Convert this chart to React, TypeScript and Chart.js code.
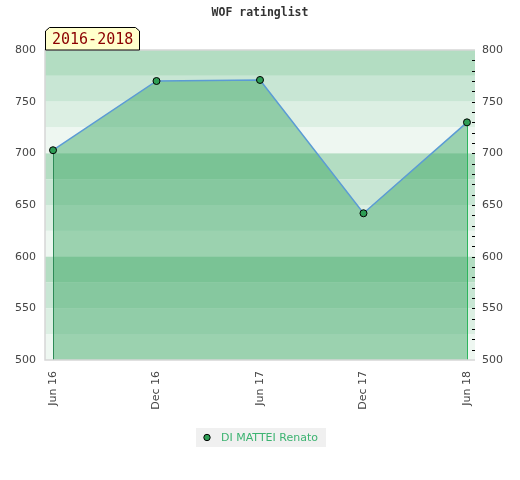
import React, { useEffect, useRef } from "react";
import { Chart, registerables } from "chart.js";

Chart.register(...registerables);

const titleText = "WOF ratinglist";
const periodLabel = "2016-2018";
const playerName = "DI MATTEI Renato";
const dateLabels = ["Jun 16", "Dec 16", "Jun 17", "Dec 17", "Jun 18"];
const ratings = [703, 770, 771, 642, 730];
const yMin = 500;
const yMax = 800;
const yStep = 50;
const bandStep = 25;
const minorStep = 10;
const bandColors = ["#b3ddc2", "#c8e6d4", "#dcefe3", "#eef7f1"];

const SANS = "'DejaVu Sans', sans-serif";
const MONO = "'DejaVu Sans Mono', monospace";

const decorPlugin = {
  id: "decor",
  beforeDraw(chart: any) {
    const { ctx, chartArea: a, scales } = chart;
    const y = scales.y;
    ctx.save();
    let i = 0;
    for (let v = yMax; v > yMin; v -= bandStep) {
      const top = y.getPixelForValue(v);
      const bot = y.getPixelForValue(v - bandStep);
      ctx.fillStyle = bandColors[i % bandColors.length];
      ctx.fillRect(a.left, top, a.right - a.left, bot - top);
      i++;
    }
    ctx.restore();
  },
  beforeDatasetDraw(chart: any) {
    const { ctx, chartArea: a, scales } = chart;
    const x = scales.x;
    const y = scales.y;
    const n = ratings.length;
    ctx.save();
    ctx.lineWidth = 1;
    ctx.strokeStyle = "#2e8b57";
    const x0 = Math.round(x.getPixelForValue(0)) + 0.5;
    ctx.beginPath();
    ctx.moveTo(x0, y.getPixelForValue(ratings[0]));
    ctx.lineTo(x0, a.bottom);
    ctx.stroke();
    ctx.strokeStyle = "#2db55d";
    const x1 = Math.round(x.getPixelForValue(n - 1)) + 0.5;
    ctx.beginPath();
    ctx.moveTo(x1, y.getPixelForValue(ratings[n - 1]));
    ctx.lineTo(x1, a.bottom);
    ctx.stroke();
    ctx.restore();
  },
  afterDraw(chart: any) {
    const { ctx, chartArea: a, scales, width } = chart;
    const y = scales.y;
    ctx.save();
    // plot borders
    ctx.strokeStyle = "#d6d6d6";
    ctx.lineWidth = 1.5;
    ctx.beginPath();
    ctx.moveTo(a.right, a.top);
    ctx.lineTo(a.left, a.top);
    ctx.lineTo(a.left, a.bottom);
    ctx.lineTo(a.right, a.bottom);
    ctx.stroke();

    // minor ticks on right
    ctx.strokeStyle = "#000";
    ctx.lineWidth = 1;
    for (let v = yMin + minorStep; v < yMax; v += minorStep) {
      const py = Math.round(y.getPixelForValue(v)) + 0.5;
      ctx.beginPath();
      ctx.moveTo(a.right - 3, py);
      ctx.lineTo(a.right, py);
      ctx.stroke();
    }

    // title
    ctx.fillStyle = "#333";
    ctx.font = "bold 11.5px " + MONO;
    ctx.textAlign = "center";
    ctx.textBaseline = "middle";
    ctx.fillText(titleText, width / 2, 13);

    // period box
    const bl = a.left, br = a.left + 95, bt = a.top - 23, bb = a.top;
    ctx.beginPath();
    ctx.moveTo(bl + 0.5, bb);
    ctx.lineTo(bl + 0.5, bt + 4);
    ctx.lineTo(bl + 4.5, bt + 0.5);
    ctx.lineTo(br - 4.5, bt + 0.5);
    ctx.lineTo(br - 0.5, bt + 4);
    ctx.lineTo(br - 0.5, bb);
    ctx.closePath();
    ctx.fillStyle = "#ffffcc";
    ctx.fill();
    ctx.strokeStyle = "#000";
    ctx.stroke();
    ctx.fillStyle = "#8b0000";
    ctx.font = "15px " + MONO;
    ctx.textAlign = "left";
    ctx.fillText(periodLabel, bl + 7, bt + 13);

    // legend
    const ds = chart.data.datasets[0];
    ctx.font = "11px " + SANS;
    const tw = ctx.measureText(ds.label).width;
    const lw = tw + 33;
    const lx = Math.round(width / 2 + 1 - lw / 2);
    const ly = 428;
    ctx.fillStyle = "#f0f0f0";
    ctx.fillRect(lx, ly, lw, 19);
    ctx.beginPath();
    ctx.arc(lx + 11, ly + 9.5, 3.2, 0, Math.PI * 2);
    ctx.fillStyle = ds.pointBackgroundColor;
    ctx.fill();
    ctx.strokeStyle = "#000";
    ctx.lineWidth = 1;
    ctx.stroke();
    ctx.fillStyle = "#3cb371";
    ctx.textAlign = "left";
    ctx.textBaseline = "middle";
    ctx.fillText(ds.label, lx + 25, ly + 10);
    ctx.restore();
  },
};

export default function App() {
  const ref = useRef<HTMLCanvasElement | null>(null);
  useEffect(() => {
    if (!ref.current) return;
    const yTickOpts = {
      stepSize: yStep,
      color: "#444",
      font: { family: SANS, size: 11 },
    };
    const chart = new Chart(ref.current, {
      type: "line",
      data: {
        datasets: [
          {
            label: playerName,
            data: ratings.map((r, i) => ({ x: i, y: r })),
            borderColor: "#5b9bd5",
            borderWidth: 1.5,
            backgroundColor: "rgba(54,163,96,0.45)",
            fill: "start",
            tension: 0,
            pointRadius: 3.5,
            pointBackgroundColor: "#2e9e55",
            pointBorderColor: "#000",
            pointBorderWidth: 1,
          },
        ],
      },
      options: {
        responsive: false,
        animation: false,
        devicePixelRatio: 1,
        layout: { padding: { top: 50, bottom: 60, left: 0, right: 0 } },
        plugins: {
          legend: { display: false },
          title: { display: false },
          tooltip: { enabled: false },
        },
        scales: {
          x: {
            type: "linear",
            min: -0.0775,
            max: dateLabels.length - 1 + 0.0775,
            afterBuildTicks: (s: any) => {
              s.ticks = dateLabels.map((_, i) => ({ value: i }));
            },
            afterFit: (s: any) => {
              s.height = 60;
            },
            grid: { display: false, drawTicks: false },
            border: { display: false },
            ticks: {
              autoSkip: false,
              maxRotation: 90,
              minRotation: 90,
              padding: 11,
              color: "#444",
              font: { family: SANS, size: 11 },
              callback: (v: any) => dateLabels[Math.round(Number(v))] ?? "",
            },
          },
          y: {
            position: "left",
            min: yMin,
            max: yMax,
            afterFit: (s: any) => {
              s.width = 45;
            },
            grid: { display: false, drawTicks: false },
            border: { display: false },
            ticks: { ...yTickOpts, padding: 9 },
          },
          y2: {
            position: "right",
            min: yMin,
            max: yMax,
            afterFit: (s: any) => {
              s.width = 45;
            },
            grid: { display: false, drawTicks: false },
            border: { display: false },
            ticks: { ...yTickOpts, padding: 7 },
          },
        },
      },
      plugins: [decorPlugin],
    } as any);
    return () => chart.destroy();
  }, []);
  return (
    <div style={{ position: "absolute", left: 0, top: 0, width: 520, height: 480, background: "#fff" }}>
      <canvas ref={ref} width={520} height={480} style={{ display: "block" }} />
    </div>
  );
}
